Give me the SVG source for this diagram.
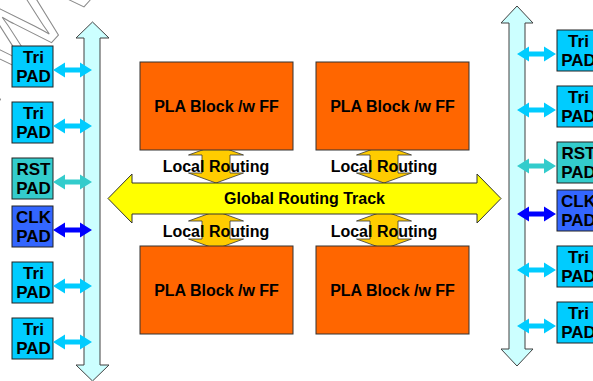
<svg xmlns="http://www.w3.org/2000/svg" width="593" height="381" viewBox="0 0 593 381">
<style>
text{font-family:"Liberation Sans",Arial,sans-serif;font-weight:bold;fill:#000;text-anchor:middle}
.pad{stroke:#222;stroke-width:1}
.tri{fill:#00CCFF}.rst{fill:#33CCCC}.clk{fill:#3366FF}
.pt{font-size:17px}
.bus{fill:#CCFFFF;stroke:#404040;stroke-width:1}
.pla{fill:#FF6600;stroke:#333;stroke-width:1}
.loc{fill:#FFCC00;stroke:#333;stroke-width:0.8}
.glob{fill:#FFFF00;stroke:#333;stroke-width:1}
.lbl{font-size:16px}
.bt{font-size:16px}
.wm{font-size:92px;fill:none;stroke:#8a8a8a;stroke-width:1;font-weight:normal;text-anchor:start}
</style>
<defs>
<path id="pa" d="M0,0 L12,-7.5 L12,-2.5 L27,-2.5 L27,-7.5 L39,0 L27,7.5 L27,2.5 L12,2.5 L12,7.5 Z"/>
<path id="la" d="M0,-38 L27.5,-28 L14,-28 L14,-10 L27.5,-10 L0,0 L-27.5,-10 L-14,-10 L-14,-28 L-27.5,-28 Z"/>
</defs>
<text class="wm" x="-45" y="150" transform="rotate(-48 -45 150)">WWW</text>
<g id="left-bus"><polygon class="bus" points="92.5,22 109,38 100,38 100,365 109,365 92.5,381 76,365 84,365 84,38 76,38"/></g>
<g id="right-bus"><polygon class="bus" points="517,6 533,23 525,23 525,349 533,349 517,366 501,349 509,349 509,23 501,23"/></g>
<g id="pad-l1"><rect class="pad tri" x="12" y="46" width="41" height="41"/><text class="pt" x="33.5" y="63">Tri</text><text class="pt" x="33.5" y="82">PAD</text></g>
<g id="pad-l2"><rect class="pad tri" x="12" y="102" width="41" height="41"/><text class="pt" x="33.5" y="119">Tri</text><text class="pt" x="33.5" y="138">PAD</text></g>
<g id="pad-l3"><rect class="pad rst" x="12" y="158" width="41" height="41"/><text class="pt" x="33.5" y="175">RST</text><text class="pt" x="33.5" y="194">PAD</text></g>
<g id="pad-l4"><rect class="pad clk" x="12" y="206" width="41" height="41"/><text class="pt" x="33.5" y="223">CLK</text><text class="pt" x="33.5" y="242">PAD</text></g>
<g id="pad-l5"><rect class="pad tri" x="12" y="262" width="41" height="41"/><text class="pt" x="33.5" y="279">Tri</text><text class="pt" x="33.5" y="298">PAD</text></g>
<g id="pad-l6"><rect class="pad tri" x="12" y="318" width="41" height="41"/><text class="pt" x="33.5" y="335">Tri</text><text class="pt" x="33.5" y="354">PAD</text></g>
<g id="pad-r1"><rect class="pad tri" x="557" y="30" width="41" height="41"/><text class="pt" x="578.5" y="47">Tri</text><text class="pt" x="578.5" y="66">PAD</text></g>
<g id="pad-r2"><rect class="pad tri" x="557" y="86" width="41" height="41"/><text class="pt" x="578.5" y="103">Tri</text><text class="pt" x="578.5" y="122">PAD</text></g>
<g id="pad-r3"><rect class="pad rst" x="557" y="142" width="41" height="41"/><text class="pt" x="578.5" y="159">RST</text><text class="pt" x="578.5" y="178">PAD</text></g>
<g id="pad-r4"><rect class="pad clk" x="557" y="190" width="41" height="41"/><text class="pt" x="578.5" y="207">CLK</text><text class="pt" x="578.5" y="226">PAD</text></g>
<g id="pad-r5"><rect class="pad tri" x="557" y="246" width="41" height="41"/><text class="pt" x="578.5" y="263">Tri</text><text class="pt" x="578.5" y="282">PAD</text></g>
<g id="pad-r6"><rect class="pad tri" x="557" y="302" width="41" height="41"/><text class="pt" x="578.5" y="319">Tri</text><text class="pt" x="578.5" y="338">PAD</text></g>
<g id="connectors">
<use href="#pa" x="53" y="70" fill="#00CCFF"/>
<use href="#pa" x="53" y="126" fill="#00CCFF"/>
<use href="#pa" x="53" y="182" fill="#33CCCC"/>
<use href="#pa" x="53" y="230" fill="#0000FF"/>
<use href="#pa" x="53" y="286" fill="#00CCFF"/>
<use href="#pa" x="53" y="342" fill="#00CCFF"/>
<use href="#pa" x="517" y="54" fill="#00CCFF"/>
<use href="#pa" x="517" y="110" fill="#00CCFF"/>
<use href="#pa" x="517" y="166" fill="#33CCCC"/>
<use href="#pa" x="517" y="214" fill="#0000FF"/>
<use href="#pa" x="517" y="270" fill="#00CCFF"/>
<use href="#pa" x="517" y="326" fill="#00CCFF"/>
<use href="#la" class="loc" x="216" y="183"/>
<use href="#la" class="loc" x="384" y="183"/>
<use href="#la" class="loc" x="216" y="249"/>
<use href="#la" class="loc" x="384" y="249"/>
</g>
<g id="global-track"><polygon class="glob" points="108,198.5 132,174 132,183 477,183 477,174 501,198.5 477,223 477,214 132,214 132,223"/><text class="lbl" x="304.5" y="204">Global Routing Track</text></g>
<g id="pla-tl"><rect class="pla" x="140" y="62" width="153" height="88"/><text class="bt" x="216.5" y="112">PLA Block /w FF</text></g>
<g id="pla-tr"><rect class="pla" x="316" y="62" width="153" height="88"/><text class="bt" x="392.5" y="112">PLA Block /w FF</text></g>
<g id="pla-bl"><rect class="pla" x="140" y="246" width="153" height="88"/><text class="bt" x="216.5" y="296">PLA Block /w FF</text></g>
<g id="pla-br"><rect class="pla" x="316" y="246" width="153" height="88"/><text class="bt" x="392.5" y="296">PLA Block /w FF</text></g>
<g id="labels">
<text class="lbl" x="216" y="172">Local Routing</text>
<text class="lbl" x="384" y="172">Local Routing</text>
<text class="lbl" x="216" y="237">Local Routing</text>
<text class="lbl" x="384" y="237">Local Routing</text>
</g>
</svg>
